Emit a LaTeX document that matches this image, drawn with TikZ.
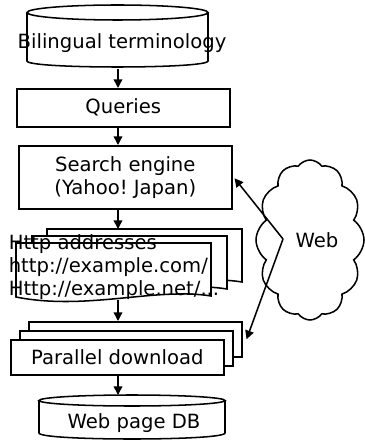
\documentclass[tikz,border=0pt]{standalone}
\usepackage{fontspec}
\setmainfont{DejaVu Sans}
\frenchspacing
\usetikzlibrary{shapes.symbols,arrows.meta,calc}
\begin{document}
\begin{tikzpicture}[x=0.75pt,y=-0.75pt,
  font=\fontsize{14.7}{17}\selectfont,
  line width=1.15pt,
  box/.style={draw, fill=white, inner sep=0pt, anchor=north west},
  pxsize/.style 2 args={minimum width=#1*0.75pt, minimum height=#2*0.75pt},
  ghost/.style={inner sep=0pt, anchor=north west},
  arr/.style={-{Triangle[length=6.5pt,width=6.5pt]}},
  docshape/.style={draw, fill=white},
]
\useasboundingbox (0,0) rectangle (364,441);
\coordinate (ax) at (118,0);

% Bilingual terminology cylinder
\node[ghost, pxsize={181}{62}] (bt) at (27,5) {};
\draw (27,12.5) -- (27,61) .. controls (27,69) and (208,69) .. (208,61) -- (208,12.5);
\draw (117.5,12.5) ellipse [x radius=90.5, y radius=7.5];
\node (bttext) at (122,43) {Bilingual terminology};

% Queries
\node[box, pxsize={213}{38}] (queries) at (16,88) {Queries};

% Search engine
\node[box, pxsize={213}{63}, align=center] (search) at (18,145) {Search engine\\(Yahoo! Japan)};

% Documents stack
\node[ghost, pxsize={195}{50}] (docback) at (47,229) {};
\node[ghost, pxsize={195}{55}] (docfront) at (16,243) {};
\foreach \dx/\dy in {47/229, 32/236, 16/243}{
  \begin{scope}[shift={(\dx,\dy)}]
    \draw[docshape] (0,0) -- (195,0) -- (195,53) .. controls (140,44) and (70,68) .. (0,54) -- cycle;
  \end{scope}
}
\node[anchor=west, align=left, inner sep=0pt] (urls) at (8,267) {Http addresses\\http://example.com/\\Http://example.net/...};

% Parallel download stack
\node[box, pxsize={213}{35}] (pd3) at (28,321) {};
\node[box, pxsize={213}{35}] (pd2) at (19,330) {};
\node[box, pxsize={213}{35}] (pd) at (10,339) {Parallel download};

% Web page DB cylinder
\node[ghost, pxsize={186}{44}] (db) at (39,395) {};
\draw (39,400.5) -- (39,433) .. controls (39,441) and (225,441) .. (225,433) -- (225,400.5);
\draw (132,400.5) ellipse [x radius=93, y radius=5.5];
\node (dbtext) at (134,423) {Web page DB};

% Cloud
\node[cloud, draw, cloud puffs=12, cloud puff arc=110, aspect=0.68,
      minimum width=108*0.75pt, minimum height=160*0.75pt, inner sep=0pt] (web) at (310,240) {};
\node (webtext) at (317,240) {Web};
\coordinate (hub) at (283,239);

% Arrows
\draw[arr] (ax |- bt.south) -- (ax |- queries.north);
\draw[arr] (ax |- queries.south) -- (ax |- search.north);
\draw[arr] (ax |- search.south) -- (ax |- docback.north);
\draw[arr] (ax |- docfront.south) -- (ax |- pd3.north);
\draw[arr] (ax |- pd.south) -- (ax |- db.north);
\draw[arr] (hub) -- ($(search.east)+(2,1)$);
\draw[arr] (hub) -- ($(pd3.east)+(4,0)$);
\end{tikzpicture}
\end{document}
